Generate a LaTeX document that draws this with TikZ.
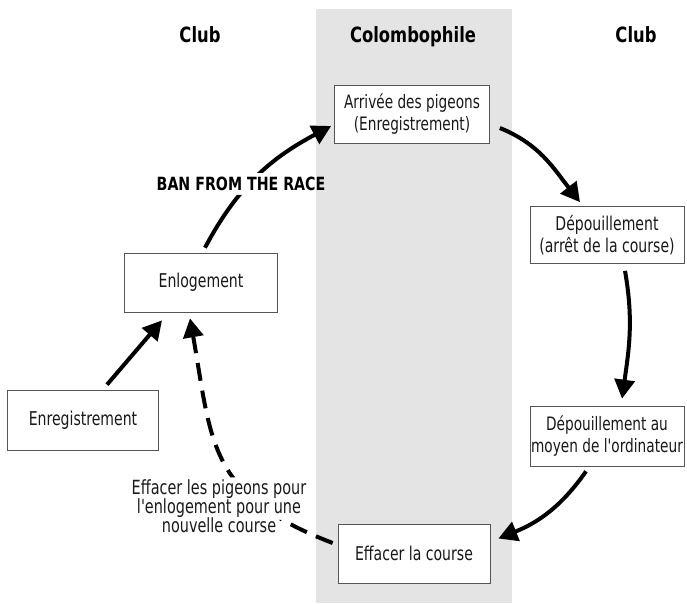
\documentclass[tikz,border=0pt]{standalone}
\usepackage{fontspec}
\setmainfont{DejaVu Sans}[FakeStretch=0.78]
\newfontfamily\boxfont{DejaVu Sans}[FakeStretch=0.74,Ligatures=TeXOff]
\usetikzlibrary{arrows.meta}
\definecolor{band}{RGB}{228,228,228}
\definecolor{boxline}{RGB}{85,85,85}
\definecolor{txt}{RGB}{25,25,25}
\begin{document}
\begin{tikzpicture}[x=1pt,y=-1pt,
  stepbox/.style={draw=boxline,line width=0.7pt,fill=white,align=center,inner sep=0pt,
     minimum width=153pt,minimum height=59pt,text=txt,font=\boxfont\fontsize{19}{22}\selectfont},
  head/.style={anchor=base,font=\fontsize{21}{24}\selectfont\bfseries},
  flow/.style={line width=4pt,-{Triangle[length=19pt,width=20pt]}},
  dflow/.style={line width=4pt,dash pattern=on 18pt off 10pt,-{Triangle[length=19pt,width=20pt]}},
  lbl/.style={align=center,text=txt,font=\boxfont\fontsize{19.5}{19}\selectfont}]
\useasboundingbox (0,0) rectangle (687,603);
\fill[band] (316,9) rectangle (512,603);

\node[head] (h1) at (200,42) {Club};
\node[head] (h2) at (413,42) {Colombophile};
\node[head] (h3) at (636,42) {Club};

\node[stepbox,minimum width=155pt,minimum height=58pt,font=\boxfont\fontsize{18.5}{22}\selectfont] (arr) at (412,114) {Arrivée des pigeons\\(Enregistrement)};
\node[stepbox,minimum width=154pt,minimum height=57pt] (dep) at (607,235) {Dépouillement\\(arrêt de la course)};
\node[stepbox,minimum width=154pt,minimum height=60pt,font=\boxfont\fontsize{18.5}{22}\selectfont] (depo) at (607,436) {Dépouillement au\\moyen de l'ordinateur};
\node[stepbox,minimum width=152pt,minimum height=59pt] (eff) at (414,553.5) {Effacer la course};
\node[stepbox,minimum width=153pt,minimum height=59pt] (enl) at (201,282.5) {Enlogement};
\node[stepbox,minimum width=151pt,minimum height=60pt] (enr) at (83,420) {Enregistrement};

% labels (no background)
\node[anchor=base,inner sep=4pt,text=black,font=\fontsize{18.2}{20}\selectfont\bfseries] (ban) at (241,190.5) {BAN FROM THE RACE};
\node[lbl,inner sep=2pt] (note) at (219,506) {Effacer les pigeons pour\\l'enlogement pour une\\nouvelle course};
\coordinate (notch) at ([xshift=-32pt,yshift=15pt]note.south east);

% arrows
\draw[flow] ([xshift=24pt,yshift=5pt]enr.north) -- ([xshift=-39pt,yshift=-8pt]enl.south);
\begin{scope}[even odd rule]
  \clip (0,0) rectangle (687,603) (ban.north east) rectangle (ban.south west);
  \draw[flow] ([xshift=4pt,yshift=5pt]enl.north) to[out=62,in=208] ([xshift=-3pt,yshift=-12pt]arr.west);
\end{scope}
\draw[flow] ([xshift=10pt,yshift=-14pt]arr.east) to[out=-22,in=128] ([xshift=-27pt,yshift=4pt]dep.north);
\draw[flow] ([xshift=18pt,yshift=-7pt]dep.south) to[out=-80,in=82] ([xshift=15pt,yshift=7pt]depo.north);
\draw[flow] ([xshift=-21pt,yshift=-5pt]depo.south) to[out=235,in=22] ([xshift=8pt,yshift=15pt]eff.east);
\begin{scope}[even odd rule]
  \clip (0,0) rectangle (687,603) (note.north west) -- (note.north east) -- (note.east |- notch) -- (notch) -- (notch |- note.south) -- (note.south west) -- cycle;
  \draw[dflow] ([xshift=-5pt,yshift=10.5pt]eff.west) .. controls +(-125,-48) and +(22,125) .. ([xshift=-11pt,yshift=-6pt]enl.south);
\end{scope}
\end{tikzpicture}
\end{document}
